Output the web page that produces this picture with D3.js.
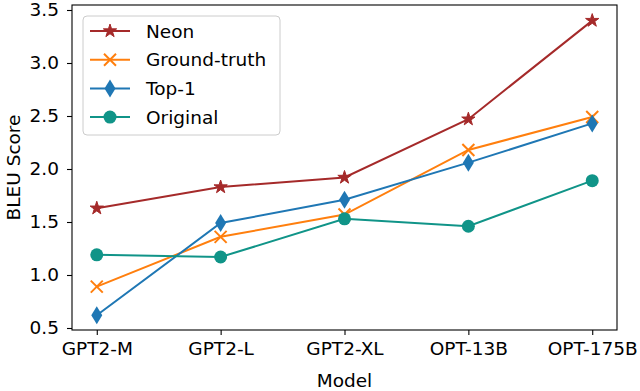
<!DOCTYPE html>
<html>
<head>
<meta charset="utf-8">
<script src="https://cdn.jsdelivr.net/npm/d3@7"></script>
<style>
  body { margin: 0; background: #fff; }
  svg { display: block; font-family: "DejaVu Sans", sans-serif; }
</style>
</head>
<body>
<svg width="640" height="391"></svg>
<script>
// chart data
var models = ["GPT2-M", "GPT2-L", "GPT2-XL", "OPT-13B", "OPT-175B"];
var neon = [1.63, 1.83, 1.92, 2.47, 3.40];
var groundTruth = [0.89, 1.36, 1.57, 2.18, 2.49];
var top1 = [0.62, 1.49, 1.71, 2.06, 2.43];
var original = [1.19, 1.17, 1.53, 1.46, 1.89];
var yTicks = [0.5, 1.0, 1.5, 2.0, 2.5, 3.0, 3.5];

var series = [
  {name: "Neon", values: neon, color: "#a52a2a", marker: "star"},
  {name: "Ground-truth", values: groundTruth, color: "#ff7f0e", marker: "x"},
  {name: "Top-1", values: top1, color: "#1f77b4", marker: "diamond"},
  {name: "Original", values: original, color: "#109488", marker: "circle"}
];

var pLeft = 72, pRight = 617, pTop = 5, pBottom = 330;
var fs = 18.5;
var svg = d3.select("svg");

var xs = d3.scaleLinear().domain([-0.2, 4.2]).range([pLeft, pRight]);
var ys = d3.scaleLinear().domain([0.5 - 2 / 106, 3.5 + 5 / 106]).range([pBottom, pTop]);

function drawMarker(g, type, color) {
  if (type == "star") {
    g.append("path").attr("d", d3.symbol(d3.symbolStar, 55)())
      .attr("fill", color).attr("stroke", color).attr("stroke-width", 1);
  } else if (type == "x") {
    g.append("path").attr("d", "M-6,-6L6,6M-6,6L6,-6")
      .attr("stroke", color).attr("stroke-width", 2).attr("fill", "none");
  } else if (type == "diamond") {
    g.append("path").attr("d", "M0,-9L5.5,0L0,9L-5.5,0Z").attr("fill", color);
  } else {
    g.append("circle").attr("r", 6.5).attr("fill", color);
  }
}

var line = d3.line()
  .x(function(d, i) { return xs(i); })
  .y(function(d) { return ys(d); });

series.forEach(function(s) {
  svg.append("path")
    .datum(s.values)
    .attr("d", line)
    .attr("fill", "none")
    .attr("stroke", s.color)
    .attr("stroke-width", 2);
  s.values.forEach(function(v, i) {
    var g = svg.append("g").attr("transform", "translate(" + xs(i) + "," + ys(v) + ")");
    drawMarker(g, s.marker, s.color);
  });
});

// axes
var yAxis = svg.append("g")
  .attr("transform", "translate(" + pLeft + ",0)")
  .call(d3.axisLeft(ys).tickValues(yTicks).tickFormat(d3.format(".1f")).tickSize(5).tickPadding(8));
var xAxis = svg.append("g")
  .attr("transform", "translate(0," + pBottom + ")")
  .call(d3.axisBottom(xs).tickValues(d3.range(models.length)).tickFormat(function(d) { return models[d]; }).tickSize(5).tickPadding(7));
[yAxis, xAxis].forEach(function(a) {
  a.select(".domain").remove();
  a.selectAll("text").attr("font-size", fs).attr("font-family", "DejaVu Sans").attr("fill", "#000");
  a.selectAll("line").attr("stroke", "#000").attr("stroke-width", 1.1);
});

svg.append("rect")
  .attr("x", pLeft).attr("y", pTop)
  .attr("width", pRight - pLeft).attr("height", pBottom - pTop)
  .attr("fill", "none").attr("stroke", "#000").attr("stroke-width", 1.1);

svg.append("text")
  .attr("x", (pLeft + pRight) / 2).attr("y", 387)
  .attr("text-anchor", "middle").attr("font-size", fs)
  .text("Model");
svg.append("text")
  .attr("transform", "translate(20," + (pTop + pBottom) / 2 + ") rotate(-90)")
  .attr("text-anchor", "middle").attr("font-size", fs)
  .text("BLEU Score");

// legend
var legend = svg.append("g").attr("transform", "translate(83,16)");
legend.append("rect")
  .attr("width", 197).attr("height", 119).attr("rx", 4)
  .attr("fill", "#fff").attr("fill-opacity", 0.8)
  .attr("stroke", "#ccc").attr("stroke-width", 1);
series.forEach(function(s, i) {
  var y = 15 + i * 28.7;
  var row = legend.append("g").attr("transform", "translate(0," + y + ")");
  row.append("line").attr("x1", 7).attr("x2", 47).attr("y1", 0).attr("y2", 0)
    .attr("stroke", s.color).attr("stroke-width", 2);
  var m = row.append("g").attr("transform", "translate(27,0)");
  drawMarker(m, s.marker, s.color);
  row.append("text").attr("x", 63).attr("y", 6.5).attr("font-size", fs).text(s.name);
});
</script>
</body>
</html>
